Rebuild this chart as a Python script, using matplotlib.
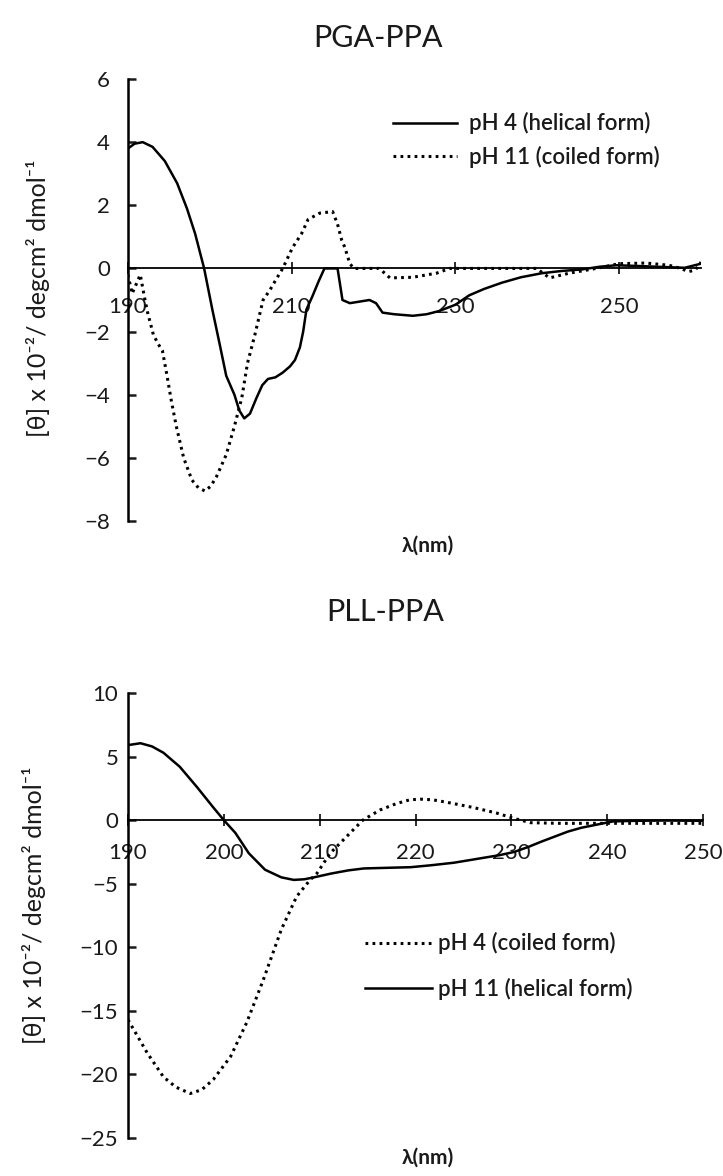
import matplotlib
matplotlib.use("Agg")
import matplotlib.pyplot as plt
from matplotlib.lines import Line2D

plt.rcParams['font.family'] = ['Lato', 'DejaVu Sans']

# PGA-PPA: wavelength (nm) and ellipticity for both pH values
pga_ph4_x = [190, 190.8, 191.8, 193, 194.5, 196, 197.2, 198.2, 199.3, 200.3, 201.2, 202, 203, 203.6,
             204.2, 204.9, 205.7, 206.4, 207.1, 208, 208.9, 209.8, 210.4, 211.0, 211.4, 211.8, 212.5,
             213.3, 214.0, 215.6, 216.2, 217.1, 218.3, 219.5, 220.3, 221.1, 222.5, 224.8, 226.5, 228,
             230, 231.7, 233.5, 235.7, 238, 240.6, 243, 245.5, 247.5, 249.6, 252, 255, 258, 260]
pga_ph4_y = [3.8, 3.95, 4.0, 3.85, 3.4, 2.7, 1.9, 1.1, 0.0, -1.3, -2.4, -3.4, -4.0, -4.5,
             -4.75, -4.6, -4.1, -3.7, -3.5, -3.45, -3.3, -3.1, -2.9, -2.5, -2.0, -1.3, -0.9,
             -0.4, 0.0, 0.0, -1.0, -1.1, -1.05, -1.0, -1.1, -1.4, -1.45, -1.5, -1.45, -1.35,
             -1.15, -0.85, -0.65, -0.45, -0.28, -0.15, -0.08, -0.03, 0.05, 0.1, 0.08, 0.05, 0.02, 0.15]

pga_ph11_x = [190, 190.5, 191.0, 191.5, 192.0, 192.4, 193.1, 193.7, 194.2, 194.7, 195.3, 195.9, 196.8,
              197.8, 198.6, 199.4, 200.1, 200.8, 202, 203, 203.9, 204.6, 205.5, 206.5, 207.3, 208.2,
              208.9, 210.1, 211.2, 212, 213.4, 215, 215.6, 216.1, 216.5, 217.1, 217.6, 220.7, 222,
              224.8, 227.7, 229.3, 239.9, 241.5, 243.9, 247.2, 250, 253.3, 256.1, 257.5, 258.5, 259.3, 260]
pga_ph11_y = [-0.2, -0.8, -0.5, -0.2, -0.9, -1.4, -2.1, -2.4, -2.6, -3.3, -4.2, -5.0, -6.0,
              -6.7, -6.95, -7.05, -6.9, -6.6, -5.9, -5.0, -4.1, -3.0, -2.1, -1.0, -0.7, -0.3,
              0.0, 0.66, 1.1, 1.55, 1.75, 1.8, 1.4, 0.9, 0.66, 0.15, 0.0, 0.0, -0.3,
              -0.28, -0.15, 0.0, 0.0, -0.3, -0.15, 0.0, 0.15, 0.17, 0.1, 0.0, -0.1, -0.05, 0.2]

# PLL-PPA
pll_ph11_x = [190, 191.3, 192.5, 193.7, 195.4, 197.2, 198.9, 200, 201.2, 202.6, 204.3, 206, 207.3,
              208.4, 209.4, 211.2, 213, 214.6, 217, 219.5, 221.6, 224, 226.8, 228.8, 230.3, 231.8,
              233.1, 234.5, 235.9, 237.3, 238.6, 240.6, 243, 246, 250]
pll_ph11_y = [5.9, 6.05, 5.8, 5.3, 4.2, 2.6, 1.0, 0.0, -1.0, -2.6, -3.9, -4.5, -4.7,
              -4.65, -4.5, -4.2, -3.95, -3.8, -3.75, -3.7, -3.55, -3.35, -3.0, -2.75, -2.5, -2.1,
              -1.7, -1.3, -0.9, -0.6, -0.4, -0.1, -0.05, -0.03, -0.05]

pll_ph4_x = [190, 191, 192, 193.7, 195, 196.5, 197.7, 198.9, 200.7, 202.4, 204.1, 206, 207.6, 209,
             209.7, 211.1, 212.8, 214.5, 216.3, 218, 219.4, 220.5, 221.8, 223.3, 226, 228.5, 230.2,
             232, 235, 240, 245, 250]
pll_ph4_y = [-15.7, -17.0, -18.3, -20.2, -21.0, -21.5, -21.2, -20.4, -18.6, -15.9, -12.6, -8.6, -6.0, -4.7,
             -4.2, -2.6, -1.3, 0.0, 0.8, 1.3, 1.6, 1.65, 1.6, 1.4, 1.0, 0.55, 0.15,
             -0.2, -0.25, -0.25, -0.25, -0.25]

ylabel = "[θ] x 10⁻²/ degcm² dmol⁻¹"

W, H = 723, 1176
fig = plt.figure(figsize=(W / 100, H / 100), dpi=100)


def box(x0, y0, x1, y1):
    # pixel box (top-left origin) -> figure fraction rect
    return [x0 / W, 1 - y1 / H, (x1 - x0) / W, (y1 - y0) / H]


solid = dict(color='black', lw=1.8, solid_joinstyle='round')
dotted = dict(color='black', lw=2.2, linestyle=(0, (0.9, 1.4)))
txt = '#1a1a1a'

# ---- top panel ----
ax1 = fig.add_axes(box(128, 79, 701, 521))
ax1.plot(pga_ph4_x, pga_ph4_y, **solid)
ax1.plot(pga_ph11_x, pga_ph11_y, **dotted)
ax1.set_xlim(190, 260)
ax1.set_ylim(-8, 6)
ax1.set_xticks([190, 210, 230, 250])
ax1.set_yticks(range(-8, 7, 2))

# ---- bottom panel ----
ax2 = fig.add_axes(box(128, 693, 703, 1138))
ax2.plot(pll_ph4_x, pll_ph4_y, **dotted)
ax2.plot(pll_ph11_x, pll_ph11_y, **solid)
ax2.set_xlim(190, 250)
ax2.set_ylim(-25, 10)
ax2.set_xticks(range(190, 251, 10))
ax2.set_yticks(range(-25, 11, 5))

for ax, xpad, ypad in ((ax1, 16, 13), (ax2, 12, 7)):
    ax.spines['top'].set_visible(False)
    ax.spines['right'].set_visible(False)
    ax.spines['bottom'].set_position(('data', 0))
    ax.spines['left'].set_linewidth(1.8)
    ax.spines['bottom'].set_linewidth(1.3)
    ax.tick_params(axis='x', direction='inout', length=9, width=1.3, pad=xpad,
                   labelsize=16, colors=txt)
    ax.tick_params(axis='y', direction='in', length=6, width=1.8, pad=ypad,
                   labelsize=16, colors=txt)

# titles, axis labels
fig.text(378 / W, 1 - 38 / H, "PGA-PPA", ha='center', va='center', fontsize=22, color=txt)
fig.text(385 / W, 1 - 612 / H, "PLL-PPA", ha='center', va='center', fontsize=22, color=txt)
fig.text(428 / W, 1 - 546 / H, "λ(nm)", ha='center', va='center', fontsize=15, weight='bold', color=txt)
fig.text(428 / W, 1 - 1158 / H, "λ(nm)", ha='center', va='center', fontsize=15, weight='bold', color=txt)
fig.text(38 / W, 1 - 298 / H, ylabel, rotation=90, ha='center', va='center', fontsize=18, color=txt)
fig.text(34 / W, 1 - 905 / H, ylabel, rotation=90, ha='center', va='center', fontsize=18, color=txt)

# legends
h_solid = Line2D([], [], **solid)
h_dot = Line2D([], [], **dotted)
fig.legend([h_solid, h_dot], ["pH 4 (helical form)", "pH 11 (coiled form)"],
           loc='center left', bbox_to_anchor=(393 / W, 1 - 140 / H), frameon=False,
           handlelength=2.9, handletextpad=0.5, labelspacing=0.5,
           borderpad=0, borderaxespad=0, prop={'weight': 'semibold', 'size': 16},
           labelcolor=txt)
fig.legend([h_dot, h_solid], ["pH 4 (coiled form)", "pH 11 (helical form)"],
           loc='center left', bbox_to_anchor=(365 / W, 1 - 966 / H), frameon=False,
           handlelength=3.0, handletextpad=0.3, labelspacing=1.05,
           borderpad=0, borderaxespad=0, prop={'weight': 'semibold', 'size': 16},
           labelcolor=txt)

fig.savefig("out.png", dpi=100)
